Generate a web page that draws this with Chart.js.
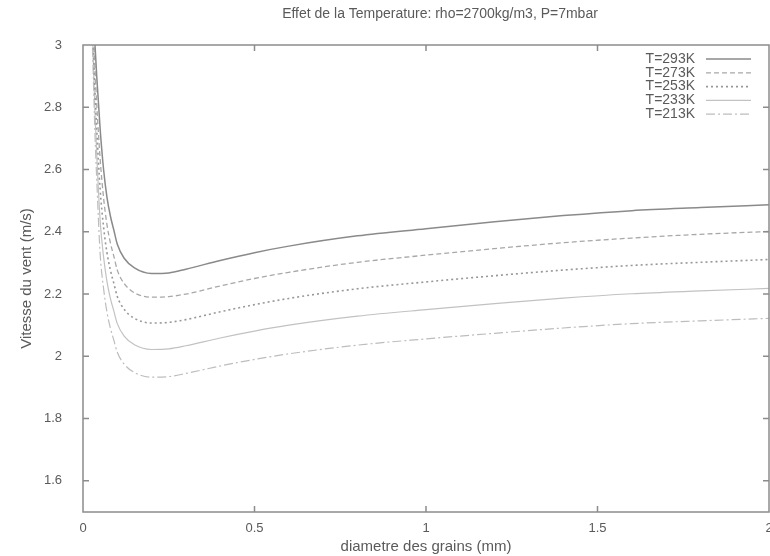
<!DOCTYPE html>
<html>
<head>
<meta charset="utf-8">
<script src="https://cdn.jsdelivr.net/npm/chart.js@4.4.0/dist/chart.umd.min.js"></script>
<style>
  html, body { margin: 0; padding: 0; background: #fff; overflow: hidden; }
  #wrap { width: 800px; height: 556px; }
</style>
</head>
<body>
<div id="wrap"><canvas id="chart" width="800" height="556"></canvas></div>
<script>
// Values: grain diameter (mm) -> threshold wind speed (m/s)
const diam = [0.025, 0.03, 0.035, 0.04, 0.05, 0.06, 0.07, 0.08, 0.09, 0.1, 0.12, 0.15, 0.2, 0.25, 0.3, 0.4, 0.5, 0.6, 0.8, 1.0, 1.2, 1.4, 1.6, 1.8, 2.0];
const v293 = [3.3, 3.12, 3.0, 2.9, 2.73, 2.6, 2.51, 2.45, 2.405, 2.36, 2.315, 2.284, 2.266, 2.268, 2.28, 2.308, 2.333, 2.354, 2.387, 2.41, 2.432, 2.452, 2.468, 2.478, 2.487];
const v273 = [3.25, 3.05, 2.92, 2.81, 2.634, 2.509, 2.422, 2.364, 2.321, 2.277, 2.234, 2.204, 2.19, 2.192, 2.2, 2.226, 2.25, 2.27, 2.302, 2.325, 2.346, 2.365, 2.38, 2.392, 2.401];
const v253 = [3.2, 3.0, 2.85, 2.73, 2.536, 2.415, 2.332, 2.276, 2.234, 2.192, 2.151, 2.122, 2.107, 2.109, 2.118, 2.143, 2.166, 2.186, 2.217, 2.239, 2.259, 2.277, 2.292, 2.302, 2.311];
const v233 = [3.15, 2.95, 2.78, 2.65, 2.435, 2.319, 2.239, 2.185, 2.145, 2.105, 2.065, 2.037, 2.022, 2.024, 2.034, 2.059, 2.081, 2.1, 2.129, 2.15, 2.169, 2.187, 2.201, 2.21, 2.218];
const v213 = [3.1, 2.9, 2.71, 2.57, 2.329, 2.218, 2.141, 2.09, 2.051, 2.013, 1.975, 1.948, 1.933, 1.935, 1.945, 1.969, 1.99, 2.008, 2.036, 2.056, 2.074, 2.091, 2.105, 2.114, 2.122];

const seriesLabels = ["T=293K", "T=273K", "T=253K", "T=233K", "T=213K"];
const xTicks = [0, 0.5, 1, 1.5, 2];
const yTicks = [1.6, 1.8, 2, 2.2, 2.4, 2.6, 2.8, 3];

const titleText = "Effet de la Temperature: rho=2700kg/m3, P=7mbar";
const FONT = "'Liberation Sans', Arial, sans-serif";
const TEXT = "#5a5a5a";

function pts(vals) {
  return diam.map((d, i) => ({ x: d, y: vals[i] }));
}

// Frame, inward mirrored ticks, title and gnuplot-like legend
const gnuplotLook = {
  id: "gnuplotLook",
  afterDatasetsDraw(chart) {
    const { ctx, chartArea: a, scales } = chart;
    ctx.save();
    ctx.strokeStyle = "#8c8c8c";
    ctx.lineWidth = 1.5;
    ctx.setLineDash([]);
    ctx.strokeRect(a.left, a.top, a.right - a.left, a.bottom - a.top);

    ctx.beginPath();
    scales.y.ticks.forEach(t => {
      const y = scales.y.getPixelForValue(t.value);
      if (Math.abs(y - a.top) < 1 || Math.abs(y - a.bottom) < 1) return;
      ctx.moveTo(a.left, y); ctx.lineTo(a.left + 6, y);
      ctx.moveTo(a.right, y); ctx.lineTo(a.right - 6, y);
    });
    scales.x.ticks.forEach(t => {
      const x = scales.x.getPixelForValue(t.value);
      if (Math.abs(x - a.left) < 1 || Math.abs(x - a.right) < 1) return;
      ctx.moveTo(x, a.bottom); ctx.lineTo(x, a.bottom - 6);
      ctx.moveTo(x, a.top); ctx.lineTo(x, a.top + 6);
    });
    ctx.stroke();

    ctx.fillStyle = TEXT;
    ctx.font = "14px " + FONT;
    ctx.textAlign = "center";
    ctx.textBaseline = "middle";
    ctx.fillText(titleText, 440, 14);

    ctx.font = "14px " + FONT;
    chart.data.datasets.forEach((ds, i) => {
      const y = 59 + i * 13.8;
      ctx.fillStyle = TEXT;
      ctx.textAlign = "right";
      ctx.fillText(ds.label, 695, y);
      ctx.strokeStyle = ds.borderColor;
      ctx.lineWidth = ds.borderWidth;
      ctx.setLineDash(ds.borderDash || []);
      ctx.beginPath();
      ctx.moveTo(706, y);
      ctx.lineTo(751, y);
      ctx.stroke();
    });
    ctx.restore();
  }
};

const styles = [
  { color: "#8a8a8a", width: 1.5, dash: [] },
  { color: "#a8a8a8", width: 1.3, dash: [5, 3] },
  { color: "#989898", width: 1.6, dash: [2, 3] },
  { color: "#c2c2c2", width: 1.2, dash: [] },
  { color: "#bdbdbd", width: 1.2, dash: [9, 3, 2, 3] }
];

const allSeries = [v293, v273, v253, v233, v213];

new Chart(document.getElementById("chart"), {
  type: "line",
  data: {
    datasets: allSeries.map((vals, i) => ({
      label: seriesLabels[i],
      data: pts(vals),
      borderColor: styles[i].color,
      borderWidth: styles[i].width,
      borderDash: styles[i].dash,
      pointRadius: 0,
      cubicInterpolationMode: "monotone",
      fill: false
    }))
  },
  options: {
    responsive: false,
    animation: false,
    devicePixelRatio: 1,
    layout: { padding: { top: 45, right: 31, left: 0, bottom: 0 } },
    plugins: {
      legend: { display: false },
      title: { display: false },
      tooltip: { enabled: false }
    },
    scales: {
      x: {
        type: "linear",
        min: 0,
        max: 2,
        afterBuildTicks: s => { s.ticks = xTicks.map(v => ({ value: v })); },
        afterFit: s => { s.height = 44; },
        grid: { display: false, drawTicks: false },
        border: { display: false },
        ticks: {
          color: TEXT,
          padding: 9,
          maxRotation: 0,
          font: { family: FONT, size: 13 },
          callback: v => String(Math.round(v * 10) / 10)
        },
        title: {
          display: true,
          text: "diametre des grains (mm)",
          color: TEXT,
          padding: { top: 0, bottom: 0 },
          font: { family: FONT, size: 15 }
        }
      },
      y: {
        type: "linear",
        min: 1.5,
        max: 3,
        afterBuildTicks: s => { s.ticks = yTicks.map(v => ({ value: v })); },
        afterFit: s => { s.width = 83; },
        grid: { display: false, drawTicks: false },
        border: { display: false },
        ticks: {
          color: TEXT,
          padding: 21,
          font: { family: FONT, size: 13 },
          callback: v => String(Math.round(v * 10) / 10)
        },
        title: {
          display: true,
          text: "Vitesse du vent (m/s)",
          color: TEXT,
          padding: { top: 18, bottom: 0 },
          font: { family: FONT, size: 15 }
        }
      }
    }
  },
  plugins: [gnuplotLook]
});
</script>
</body>
</html>
